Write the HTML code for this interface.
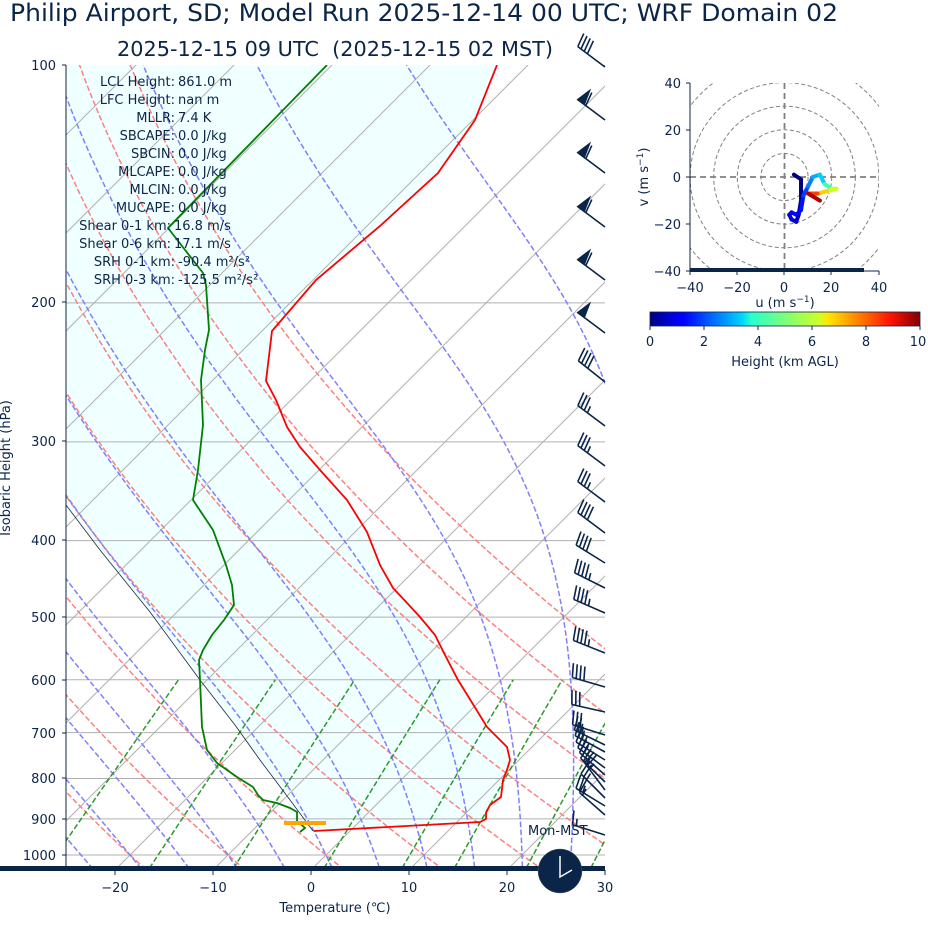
<!DOCTYPE html>
<html><head><meta charset="utf-8"><style>
html,body{margin:0;padding:0;background:#fff;}
svg{display:block;font-family:"DejaVu Sans","Liberation Sans",sans-serif;}
</style></head><body>
<svg id="s" width="928" height="936" viewBox="0 0 928 936" xmlns="http://www.w3.org/2000/svg">
<defs>
<clipPath id="cp"><rect x="66" y="65" width="539" height="805"/></clipPath>
<clipPath id="hc"><rect x="690" y="83" width="189" height="188"/></clipPath>
<linearGradient id="jet" x1="0" x2="1" y1="0" y2="0">
<stop offset="0" stop-color="#00007f"/><stop offset="0.11" stop-color="#0000ff"/><stop offset="0.125" stop-color="#0000ff"/>
<stop offset="0.34" stop-color="#00d4ff"/><stop offset="0.375" stop-color="#29ffce"/><stop offset="0.5" stop-color="#7dff7a"/>
<stop offset="0.625" stop-color="#ceff29"/><stop offset="0.66" stop-color="#ffe600"/><stop offset="0.89" stop-color="#ff1400"/><stop offset="1" stop-color="#7f0000"/>
</linearGradient>
</defs>
<g id="plot" clip-path="url(#cp)"></g>
<g id="over"></g>
<line x1="66" y1="65" x2="66" y2="870" stroke="#0b2549" stroke-width="1"/>
<rect x="0" y="866" width="605" height="5" fill="#0b2549"/>
<g fill="#0b2549" font-size="13" text-anchor="end">
<text x="56" y="70">100</text><text x="56" y="307">200</text><text x="56" y="446">300</text><text x="56" y="545">400</text>
<text x="56" y="622">500</text><text x="56" y="685">600</text><text x="56" y="738">700</text><text x="56" y="783">800</text>
<text x="56" y="824">900</text><text x="56" y="860">1000</text>
</g>
<g stroke="#0b2549"><line x1="62" x2="66" y1="65" y2="65"/><line x1="62" x2="66" y1="302" y2="302"/><line x1="62" x2="66" y1="441" y2="441"/><line x1="62" x2="66" y1="540" y2="540"/><line x1="62" x2="66" y1="617" y2="617"/><line x1="62" x2="66" y1="680" y2="680"/><line x1="62" x2="66" y1="733" y2="733"/><line x1="62" x2="66" y1="778" y2="778"/><line x1="62" x2="66" y1="819" y2="819"/><line x1="62" x2="66" y1="855" y2="855"/>
<line x1="115" x2="115" y1="870" y2="875"/><line x1="213" x2="213" y1="870" y2="875"/><line x1="311" x2="311" y1="870" y2="875"/><line x1="409" x2="409" y1="870" y2="875"/><line x1="507" x2="507" y1="870" y2="875"/><line x1="605" x2="605" y1="870" y2="875"/></g>
<g fill="#0b2549" font-size="13" text-anchor="middle">
<text x="115" y="892">−20</text><text x="213" y="892">−10</text><text x="311" y="892">0</text><text x="409" y="892">10</text><text x="507" y="892">20</text><text x="605" y="892">30</text>
<text x="335" y="912">Temperature (℃)</text>
</g>
<text transform="translate(10,468) rotate(-90)" fill="#0b2549" font-size="13" text-anchor="middle">Isobaric Height (hPa)</text>
<text x="10" y="21" fill="#0b2549" font-size="24" textLength="828" lengthAdjust="spacingAndGlyphs">Philip Airport, SD; Model Run 2025-12-14 00 UTC; WRF Domain 02</text>
<text x="117" y="56" fill="#0b2549" font-size="20" textLength="436" lengthAdjust="spacingAndGlyphs" xml:space="preserve">2025-12-15 09 UTC  (2025-12-15 02 MST)</text>
<g fill="#0b2549" font-size="13">
<g text-anchor="end">
<text x="175" y="86">LCL Height:</text><text x="175" y="104">LFC Height:</text><text x="175" y="122">MLLR:</text><text x="175" y="140">SBCAPE:</text><text x="175" y="158">SBCIN:</text><text x="175" y="176">MLCAPE:</text><text x="175" y="194">MLCIN:</text><text x="175" y="212">MUCAPE:</text><text x="171" y="230">Shear 0-1 km:</text><text x="171" y="248">Shear 0-6 km:</text><text x="175" y="266">SRH 0-1 km:</text><text x="175" y="284">SRH 0-3 km:</text>
</g>
<g text-anchor="start">
<text x="178" y="86">861.0 m</text><text x="178" y="104">nan m</text><text x="178" y="122">7.4 K</text><text x="178" y="140">0.0 J/kg</text><text x="178" y="158">0.0 J/kg</text><text x="178" y="176">0.0 J/kg</text><text x="178" y="194">0.0 J/kg</text><text x="178" y="212">0.0 J/kg</text><text x="174" y="230">16.8 m/s</text><text x="174" y="248">17.1 m/s</text><text x="178" y="266">-90.4 m²/s²</text><text x="178" y="284">-125.5 m²/s²</text>
</g>
<text x="528" y="835" font-size="13">Mon-MST</text>
</g>
<circle cx="560" cy="871" r="22" fill="#0b2549" stroke="#556" stroke-width="0.5"/>
<polyline points="560,856 560,877 572,870" fill="none" stroke="#fff" stroke-width="1.5"/>
<g id="hodo" clip-path="url(#hc)"></g>
<line x1="690" y1="83" x2="690" y2="271" stroke="#0b2549"/>
<rect x="690" y="268" width="174" height="4" fill="#0b2549"/>
<line x1="690" y1="271" x2="879" y2="271" stroke="#0b2549"/>
<g stroke="#0b2549"><line x1="686" x2="690" y1="83" y2="83"/><line x1="686" x2="690" y1="130" y2="130"/><line x1="686" x2="690" y1="177" y2="177"/><line x1="686" x2="690" y1="224" y2="224"/><line x1="686" x2="690" y1="271" y2="271"/>
<line x1="690" x2="690" y1="271" y2="275"/><line x1="737" x2="737" y1="271" y2="275"/><line x1="784" x2="784" y1="271" y2="275"/><line x1="831" x2="831" y1="271" y2="275"/><line x1="879" x2="879" y1="271" y2="275"/></g>
<g fill="#0b2549" font-size="13">
<g text-anchor="end"><text x="681" y="88">40</text><text x="681" y="135">20</text><text x="681" y="182">0</text><text x="681" y="229">−20</text><text x="681" y="276">−40</text></g>
<g text-anchor="middle"><text x="690" y="292">−40</text><text x="737" y="292">−20</text><text x="784" y="292">0</text><text x="831" y="292">20</text><text x="879" y="292">40</text>
<text x="785" y="307">u (m s<tspan font-size="9" dy="-5">−1</tspan><tspan dy="5">)</tspan></text></g>
<text transform="translate(648,177) rotate(-90)" text-anchor="middle">v (m s<tspan font-size="9" dy="-5">−1</tspan><tspan dy="5">)</tspan></text>
</g>
<rect x="650" y="312" width="270" height="14" fill="url(#jet)" stroke="#0b2549" stroke-width="0.8"/>
<g stroke="#0b2549"><line x1="650" x2="650" y1="326" y2="330"/><line x1="704" x2="704" y1="326" y2="330"/><line x1="758" x2="758" y1="326" y2="330"/><line x1="812" x2="812" y1="326" y2="330"/><line x1="866" x2="866" y1="326" y2="330"/><line x1="920" x2="920" y1="326" y2="330"/></g>
<g fill="#0b2549" font-size="13" text-anchor="middle"><text x="650" y="346">0</text><text x="704" y="346">2</text><text x="758" y="346">4</text><text x="812" y="346">6</text><text x="866" y="346">8</text><text x="918" y="346">10</text>
<text x="785" y="366">Height (km AGL)</text></g>
</svg>
<script>
(function(){
var NS="http://www.w3.org/2000/svg";
function el(p,t,a){var e=document.createElementNS(NS,t);for(var k in a)e.setAttribute(k,a[k]);p.appendChild(e);return e;}
var plot=document.getElementById('plot'),over=document.getElementById('over'),hodo=document.getElementById('hodo');
function Y(p){return 65+790*Math.log10(p/100);}
function X(T,p){return 311+9.8*T+(870-Y(p));}
function pl(arr){return arr.map(function(a){return a[0].toFixed(1)+','+a[1].toFixed(1);}).join(' ');}
var red=[[497,65],[475,120],[438,173],[380,226],[316,280],[272,331],[266,381],[276,400],[287,427],[300,447],[320,470],[347,500],[367,532],[380,565],[393,588],[408,604],[420,617],[435,635],[445,655],[458,680],[463,688],[487,727],[507,747],[510,760],[507,770],[503,780],[501,797],[490,805],[486,813],[486,819],[480,822],[314,831]];
var parcel=[[313,831],[290,800],[260,760],[235,725],[200,680],[150,612],[100,550],[66,505],[30,460]];
var fill=red.concat(parcel).concat([[30,65]]);
el(plot,'polygon',{points:pl(fill),fill:'#f0ffff'});
[200,300,400,500,600,700,800,900,1000].forEach(function(p){el(plot,'line',{x1:66,x2:605,y1:Y(p),y2:Y(p),stroke:'#b0b0b0','stroke-width':1});});
for(var T=-120;T<=40;T+=10){el(plot,'line',{x1:X(T,1050),y1:Y(1050),x2:X(T,90),y2:Y(90),stroke:'#b0b0b0','stroke-width':1});}
var ps=[];for(var p=1060;p>=95;p-=5)ps.push(p);
for(var t0=-30;t0<=60;t0+=10){var th=t0+273.15;var pts=ps.map(function(p){return [X(th*Math.pow(p/1000,0.2857)-273.15,p),Y(p)];});
el(plot,'polyline',{points:pl(pts),fill:'none',stroke:'#ff7f7f','stroke-width':1.5,'stroke-dasharray':'5.5,2.5'});}
function es(Tc){return 6.112*Math.exp(17.67*Tc/(Tc+243.5));}
function dTdp(Tk,p){var rs=0.622*es(Tk-273.15)/(p-es(Tk-273.15));var Lv=2.501e6,Rd=287.04,Cp=1005.7;
return (Rd*Tk+Lv*rs)/(Cp+Lv*Lv*rs*0.622/(Rd*Tk*Tk))/p;}
for(var t0=-40;t0<=45;t0+=5){var up=[],Tk=t0+273.15,p=1000,dp=-2;up.push([X(t0,1000),Y(1000)]);
while(p>100){var k1=dTdp(Tk,p),k2=dTdp(Tk+k1*dp/2,p+dp/2),k3=dTdp(Tk+k2*dp/2,p+dp/2),k4=dTdp(Tk+k3*dp,p+dp);Tk+=dp*(k1+2*k2+2*k3+k4)/6;p+=dp;up.push([X(Tk-273.15,p),Y(p)]);}
var dn=[];Tk=t0+273.15;p=1000;dp=2;while(p<1060){var k1=dTdp(Tk,p);Tk+=k1*dp;p+=dp;dn.push([X(Tk-273.15,p),Y(p)]);}
el(plot,'polyline',{points:pl(dn.reverse().concat(up)),fill:'none',stroke:'#7f7fff','stroke-width':1.5,'stroke-dasharray':'5.5,2.5'});}
[0.0004,0.001,0.002,0.004,0.007,0.01,0.016,0.024,0.032].forEach(function(w){var pts=[];for(var p=1060;p>=600;p-=10){var e=p*w/(0.622+w);var l=Math.log(e/6.112);var Td=243.5*l/(17.67-l);pts.push([X(Td,p),Y(p)]);}
el(plot,'polyline',{points:pl(pts),fill:'none',stroke:'#2a9a2a','stroke-width':1.5,'stroke-dasharray':'5.5,2.5'});});
el(plot,'polyline',{points:pl(parcel),fill:'none',stroke:'#1a2a40','stroke-width':0.8});
el(plot,'polyline',{points:pl(red),fill:'none',stroke:'#ff0000','stroke-width':1.8});
var grn=[[327,65],[168,228],[203,273],[206,285],[207,300],[209,330],[205,350],[201,380],[203,425],[198,470],[193,500],[213,530],[226,565],[232,585],[234,605],[224,620],[212,635],[203,650],[199,660],[200,680],[202,727],[207,750],[217,763],[237,777],[253,787],[258,795],[263,800],[277,803],[290,808],[297,812],[297,821],[305,828],[300,832]];
el(plot,'polyline',{points:pl(grn),fill:'none',stroke:'#008000','stroke-width':1.8});
el(over,'line',{x1:284,x2:326,y1:823,y2:823,stroke:'#ffa500','stroke-width':4});
function barb(by,dx,dy,pen,full,half){var L=Math.sqrt(dx*dx+dy*dy);var ux=dx/L,uy=dy/L;var bx=605,len=34;
var tx=bx+ux*len,ty=by+uy*len;var fx=-uy,fy=ux; if(fy>0){fx=-fx;fy=-fy;}
var g=el(over,'g',{stroke:'#0b2549','stroke-width':1.6,fill:'#0b2549'});
el(g,'line',{x1:bx,y1:by,x2:tx,y2:ty});var pos=0;
for(var i=0;i<pen;i++){var ax=tx-ux*pos,ay=ty-uy*pos;var cx=tx-ux*(pos+8),cy=ty-uy*(pos+8);
el(g,'polygon',{points:pl([[ax,ay],[cx,cy],[ax+fx*14-ux*4,ay+fy*14-uy*4]])});pos+=10;}
for(var i=0;i<full;i++){var ax=tx-ux*pos,ay=ty-uy*pos;el(g,'line',{x1:ax,y1:ay,x2:ax+fx*14+ux*3,y2:ay+fy*14+uy*3});pos+=4;}
for(var i=0;i<half;i++){var ax=tx-ux*pos,ay=ty-uy*pos;el(g,'line',{x1:ax,y1:ay,x2:ax+fx*7+ux*1.5,y2:ay+fy*7+uy*1.5});pos+=4;}}
barb(67,-0.8,-0.6,0,4,0);
[120,173,227,280].forEach(function(y){barb(y,-0.8,-0.6,1,1,0);});
barb(333,-0.8,-0.6,1,0,0);
barb(382,-0.78,-0.62,0,4,0);barb(426,-0.8,-0.6,0,3,1);barb(466,-0.8,-0.6,0,3,1);barb(502,-0.8,-0.6,0,3,1);
barb(533,-0.8,-0.6,0,4,0);barb(563,-0.85,-0.53,0,4,0);barb(588,-0.9,-0.45,0,4,1);barb(613,-0.92,-0.4,0,4,1);barb(653,-0.93,-0.37,0,4,1);
barb(687,-0.96,-0.28,0,4,0);barb(712,-0.97,-0.22,0,3,0);barb(735,-0.95,-0.3,0,3,0);
[[745,-0.9,-0.44],[752,-0.88,-0.48],[760,-0.85,-0.53],[768,-0.8,-0.6],[775,-0.75,-0.66],[782,-0.72,-0.7],[790,-0.6,-0.8],[798,-0.7,-0.7],[806,-0.85,-0.52]].forEach(function(b){barb(b[0],b[1],b[2],0,2,1);});
barb(815,-0.75,-0.66,0,1,1);barb(835,-0.95,-0.3,0,1,1);
var cx=784.5,cy=177,s=2.36;
for(var r=10;r<=60;r+=10)el(hodo,'circle',{cx:cx,cy:cy,r:r*s,fill:'none',stroke:'#808080','stroke-width':1,'stroke-dasharray':'4,2.5'});
el(hodo,'line',{x1:690,x2:879,y1:cy,y2:cy,stroke:'#808080','stroke-width':1.8,'stroke-dasharray':'6,4'});
el(hodo,'line',{x1:cx,x2:cx,y1:83,y2:271,stroke:'#808080','stroke-width':1.8,'stroke-dasharray':'6,4'});
var hp=[[4,1,'#00007f'],[7,-1,'#00007f'],[7,-5,'#00007f'],[7,-10,'#00008f'],[6,-16,'#00009f'],[5,-19,'#0000af'],[3,-18,'#0000bf'],[2,-16,'#0000cf'],[3,-15,'#0000df'],[5,-16,'#0000ef'],[7,-14,'#0000ff'],[8,-8,'#0010ff'],[10,-4,'#0040ff'],[12,0,'#0080ff'],[15,1,'#00b0ff'],[17,-3,'#00d0ff'],[20,-5,'#40ffb0'],[22,-5,'#a0ff50'],[18,-6,'#d0ff20'],[14,-7,'#ffd000'],[10,-7,'#ff4000'],[15,-10,'#b00000']];
for(var i=1;i<hp.length;i++){el(hodo,'line',{x1:cx+hp[i-1][0]*s,y1:cy-hp[i-1][1]*s,x2:cx+hp[i][0]*s,y2:cy-hp[i][1]*s,stroke:hp[i][2],'stroke-width':4,'stroke-linecap':'round'});}
})();
</script>
</body></html>
